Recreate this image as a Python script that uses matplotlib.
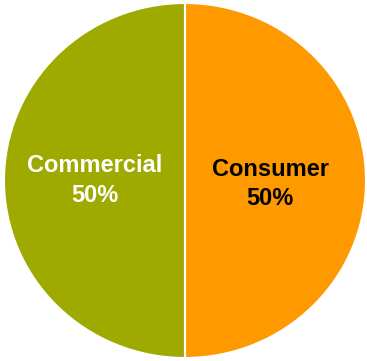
import matplotlib.pyplot as plt

# data
segments = ['Commercial', 'Consumer']
shares = [50, 50]
colors = ['#9FAA00', '#FF9900']
label_colors = ['white', 'black']

fig = plt.figure(figsize=(3.67, 3.61), dpi=100)
ax = fig.add_axes([4 / 367, 3 / 361, 362 / 367, 355 / 361])


def fmt(pct):
    return f'{pct:.0f}%'


wedges, texts, autotexts = ax.pie(shares, colors=colors, startangle=90,
                                  autopct=fmt, pctdistance=0.5,
                                  wedgeprops=dict(edgecolor='white', linewidth=1.5),
                                  textprops=dict(family='Liberation Sans',
                                                 fontsize=17, fontweight='bold'))
for name, t, c in zip(segments, autotexts, label_colors):
    t.set_text(f'{name}\n{t.get_text()}')
    t.set_color(c)
    t.set_linespacing(1.35)

# consumer label sits a touch further left and lower in the original
autotexts[1].set_position((0.47, -0.02))

ax.set_aspect('auto')
ax.set_xlim(-1, 1)
ax.set_ylim(-1, 1)
ax.axis('off')

fig.savefig('out.png', dpi=100)
